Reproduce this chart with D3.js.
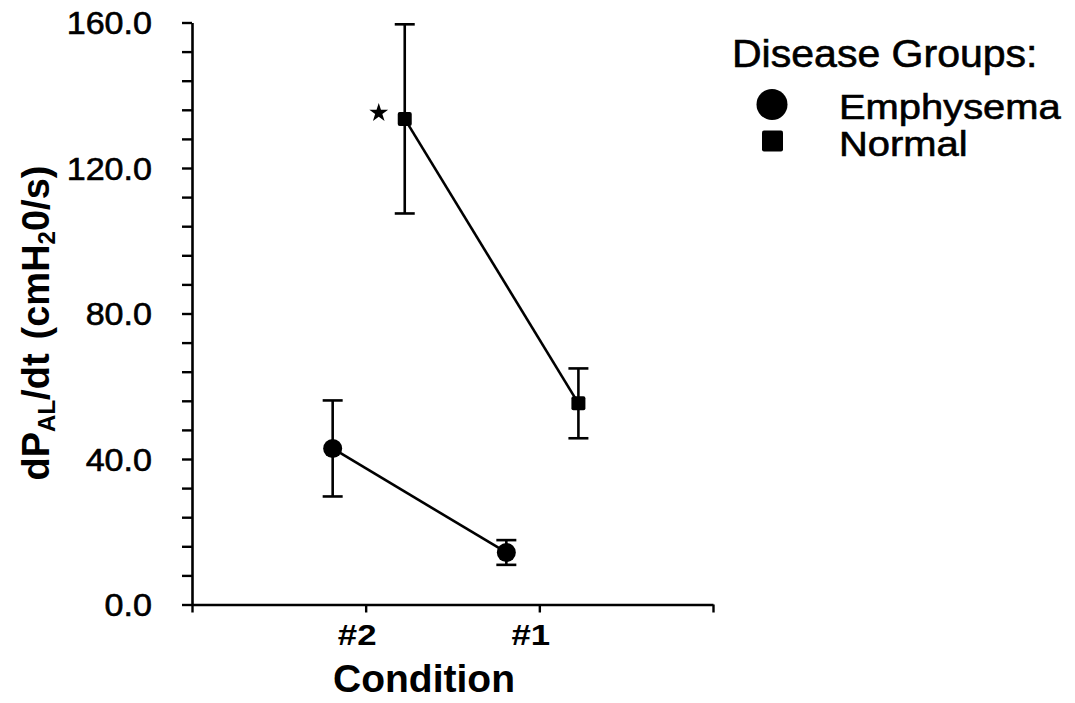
<!DOCTYPE html>
<html>
<head>
<meta charset="utf-8">
<script src="https://cdn.jsdelivr.net/npm/d3@7"></script>
<style>
  html, body { margin: 0; padding: 0; background: #fff; }
  svg { display: block; }
  text { font-family: "Liberation Sans", Arial, Helvetica, sans-serif; fill: #000; }
</style>
</head>
<body>
<svg id="chart" width="1075" height="703"></svg>
<script>
// ---- data ----
const categories = ["#2", "#1"];
const xTickLabels = ["", "#2", "#1", ""];
const seriesNames = ["Emphysema", "Normal"];
const emphysemaMean = [42.9, 14.3];
const emphysemaSE = [13.2, 3.4];
const normalMean = [133.5, 55.3];
const normalSE = [26.0, 9.6];
const yMajorTicks = [0, 40, 80, 120, 160];
const yMinorStep = 8;
const significance = ["*", ""];   // marker on Normal at condition #2

// ---- layout ----
const svg = d3.select("#chart");
const x = d3.scaleLinear().domain([0, 3]).range([192, 713]);
const y = d3.scaleLinear().domain([0, 160]).range([604.5, 22.5]);
const font = 31;
const heavy = sel => sel.attr("stroke", "#000").attr("stroke-width", 0.6);

// Y axis
const yAxis = d3.axisLeft(y)
  .tickValues(d3.range(0, 160 + 0.001, yMinorStep))
  .tickSize(10)
  .tickSizeOuter(0)
  .tickFormat(d => yMajorTicks.includes(d) ? d3.format(".1f")(d) : "");
const gy = svg.append("g").attr("transform", `translate(${x(0)},0)`).call(yAxis);
gy.select(".domain").attr("stroke", "#000").attr("stroke-width", 2.6);
gy.selectAll(".tick line").attr("stroke", "#000").attr("stroke-width", 2.4);
gy.selectAll(".tick text")
  .attr("font-size", font)
  .attr("x", -40 / 1.1)
  .attr("dy", "0.36em")
  .attr("transform", "scale(1.1,1)")
  .style("font-family", "'Liberation Sans', Arial, sans-serif")
  .call(heavy);

// X axis
const xAxis = d3.axisBottom(x)
  .tickValues([0, 1, 2, 3])
  .tickSize(8)
  .tickSizeOuter(0)
  .tickFormat((d, i) => xTickLabels[i]);
const gx = svg.append("g").attr("transform", `translate(0,${y(0)})`).call(xAxis);
gx.select(".domain").attr("stroke", "#000").attr("stroke-width", 2.6);
gx.selectAll(".tick line").attr("stroke", "#000").attr("stroke-width", 2.4);
gx.selectAll(".tick text")
  .attr("font-size", 29)
  .attr("font-weight", "bold")
  .attr("y", 0)
  .attr("dy", 0)
  .attr("transform", "translate(-9,40) scale(1.2,1)")
  .style("font-family", "'Liberation Sans', Arial, sans-serif");

// X title
svg.append("text")
  .attr("transform", `translate(424,692)`)
  .attr("text-anchor", "middle")
  .attr("font-size", 39)
  .attr("font-weight", "bold")
  .text("Condition");

// Y title
const yt = svg.append("text")
  .attr("transform", "translate(49,323) rotate(-90)")
  .attr("text-anchor", "middle")
  .attr("font-size", 38)
  .attr("font-weight", "bold");
yt.append("tspan").text("dP");
yt.append("tspan").attr("font-size", 24).attr("dy", 6).text("AL");
yt.append("tspan").attr("dy", -6).text("/dt");
yt.append("tspan").attr("dx", 14).text("(cmH");
yt.append("tspan").attr("font-size", 24).attr("dy", 6).text("2");
yt.append("tspan").attr("dy", -6).text("0/s)");

// ---- series ----
const offsets = [-0.19, 0.225];
const series = [
  { name: seriesNames[0], mean: emphysemaMean, se: emphysemaSE, shape: "circle" },
  { name: seriesNames[1], mean: normalMean, se: normalSE, shape: "square" }
];

series.forEach((s, si) => {
  const pts = categories.map((c, i) => ({
    cx: x(i + 1 + offsets[si]),
    m: s.mean[i], lo: s.mean[i] - s.se[i], hi: s.mean[i] + s.se[i]
  }));
  const g = svg.append("g");
  g.append("path")
    .attr("d", d3.line().x(d => d.cx).y(d => y(d.m))(pts))
    .attr("fill", "none").attr("stroke", "#000").attr("stroke-width", 2.6);
  const capW = 10;
  pts.forEach(d => {
    g.append("line").attr("x1", d.cx).attr("x2", d.cx)
      .attr("y1", y(d.lo)).attr("y2", y(d.hi))
      .attr("stroke", "#000").attr("stroke-width", 2.6);
    [d.lo, d.hi].forEach(v => {
      g.append("line").attr("x1", d.cx - capW).attr("x2", d.cx + capW)
        .attr("y1", y(v)).attr("y2", y(v))
        .attr("stroke", "#000").attr("stroke-width", 2.6);
    });
  });
  pts.forEach(d => {
    if (s.shape === "circle") {
      g.append("circle").attr("cx", d.cx).attr("cy", y(d.m)).attr("r", 9.5).attr("fill", "#000");
    } else {
      g.append("rect").attr("x", d.cx - 7).attr("y", y(d.m) - 7)
        .attr("width", 14).attr("height", 14).attr("rx", 2).attr("fill", "#000");
    }
  });
  if (si === 1) {
    pts.forEach((d, i) => {
      if (significance[i]) {
        g.append("path")
          .attr("d", d3.symbol(d3.symbolStar, 110)())
          .attr("transform", `translate(${d.cx - 26},${y(d.m) - 6})`)
          .attr("fill", "#000");
      }
    });
  }
});

// ---- legend ----
const lg = svg.append("g");
lg.append("text")
  .attr("transform", `translate(732,67) scale(1.08,1)`)
  .attr("font-size", 38)
  .text("Disease Groups:")
  .call(heavy);
lg.append("circle").attr("cx", 772).attr("cy", 104.5).attr("r", 15.5).attr("fill", "#000");
lg.append("rect").attr("x", 762).attr("y", 130.5).attr("width", 21).attr("height", 21).attr("rx", 2).attr("fill", "#000");
lg.append("text")
  .attr("transform", `translate(839,119) scale(1.14,1)`)
  .attr("font-size", 35)
  .text(seriesNames[0])
  .call(heavy);
lg.append("text")
  .attr("transform", `translate(839,156) scale(1.14,1)`)
  .attr("font-size", 35)
  .text(seriesNames[1])
  .call(heavy);
</script>
</body>
</html>
